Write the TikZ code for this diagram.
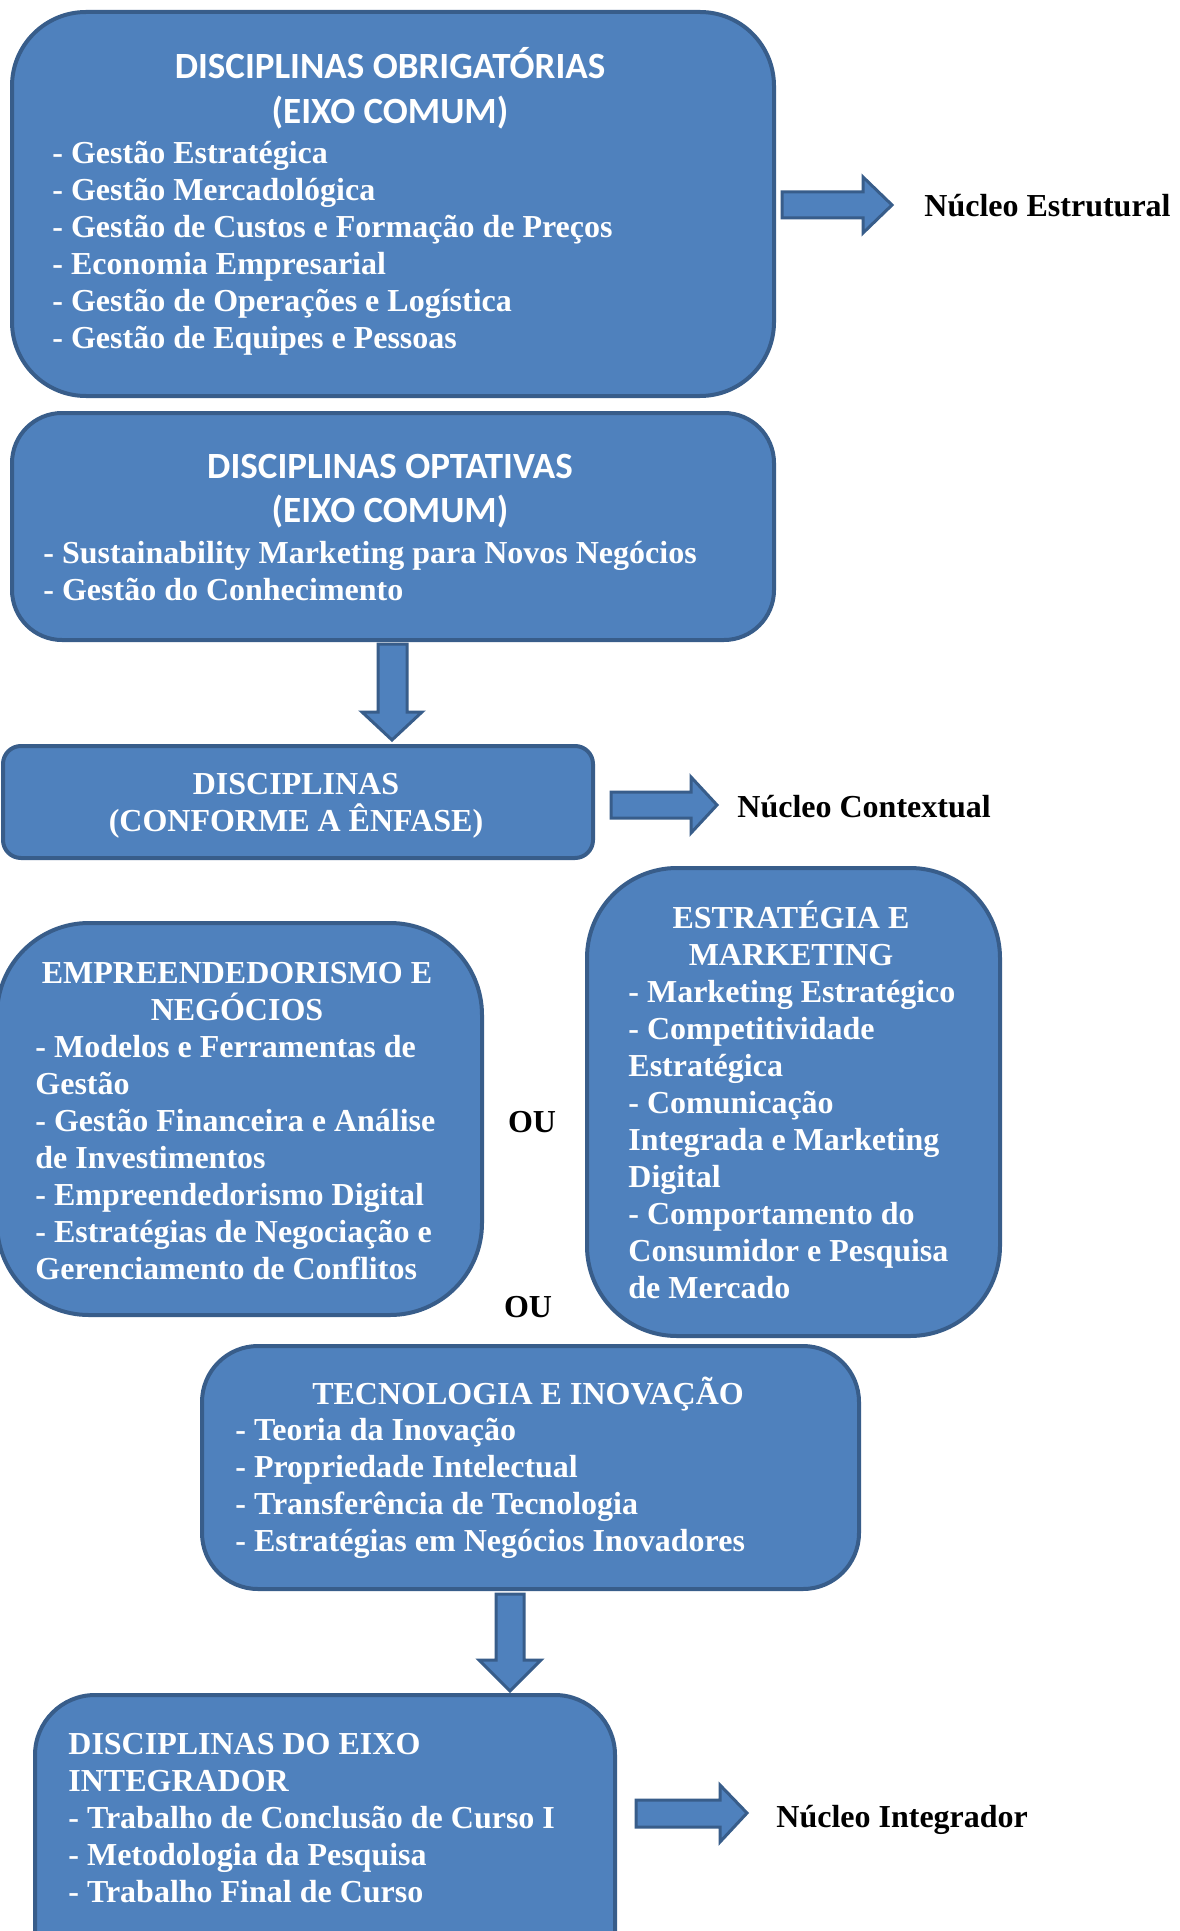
\documentclass[tikz,border=0pt]{standalone}
\usepackage{fontspec}
\setmainfont{Liberation Serif}
\newfontfamily\headfont{Carlito}
\definecolor{boxfill}{HTML}{4F81BD}
\definecolor{boxline}{HTML}{385D8A}
\newcommand\hstrutx{\rule{0pt}{20pt}}
\newcommand\bstrutx{\rule{0pt}{17pt}}
\begin{document}
\begin{tikzpicture}[x=0.5pt,y=-0.5pt,
  box/.style={draw=boxline, fill=boxfill, line width=2pt, inner sep=0pt, anchor=north west},
  blk/.style={draw=boxline, fill=boxfill, line width=1.5pt, line join=miter},
  head/.style={text=white, font=\headfont\bfseries\fontsize{18.5}{22.25}\selectfont, align=center, inner sep=0pt, anchor=north},
  body/.style={text=white, font=\bfseries\fontsize{16}{18.5}\selectfont, align=left, inner sep=0pt, anchor=north west},
  shead/.style={text=white, font=\bfseries\fontsize{16}{18.5}\selectfont, align=center, inner sep=0pt, anchor=north},
  lbl/.style={text=black, font=\bfseries\fontsize{16}{18.5}\selectfont, inner sep=0pt, anchor=base west},
  ou/.style={text=black, font=\bfseries\fontsize{16}{18.5}\selectfont, inner sep=0pt, anchor=base}]
\useasboundingbox (0,0) rectangle (1179,1931);
\fill[white] (0,0) rectangle (1179,1931);
\clip (0,0) rectangle (1179,1931);

% boxes
\node[box, minimum width=381pt, minimum height=192pt, rounded corners=37pt] (b1) at (10,10) {};
\node[box, minimum width=381pt, minimum height=113.5pt, rounded corners=25pt] (b2) at (10,411) {};
\node[box, minimum width=295pt, minimum height=56pt, rounded corners=9pt] (b3) at (1,744) {};
\node[box, minimum width=242.5pt, minimum height=196pt, rounded corners=46pt] (b4) at (-5,921) {};
\node[box, minimum width=206.5pt, minimum height=234pt, rounded corners=45pt] (b5) at (585,866) {};
\node[box, minimum width=328.5pt, minimum height=121.5pt, rounded corners=28pt] (b6) at (200,1344) {};
\node[box, minimum width=290pt, minimum height=148.5pt, rounded corners=30pt] (b7) at (33,1693) {};

% texts in boxes
\node[head] (t1h) at (390,38.5) {\hstrutx DISCIPLINAS OBRIGATÓRIAS\\(EIXO COMUM)};
\node[body] (t1b) at (52,129) {\bstrutx - Gestão Estratégica\\- Gestão Mercadológica\\- Gestão de Custos e Formação de Preços\\- Economia Empresarial\\- Gestão de Operações e Logística\\- Gestão de Equipes e Pessoas};

\node[head] (t2h) at (390,437.7) {\hstrutx DISCIPLINAS OPTATIVAS\\(EIXO COMUM)};
\node[body] (t2b) at (43,529) {\bstrutx - Sustainability Marketing para Novos Negócios\\- Gestão do Conhecimento};

\node[shead] (t3) at (296,760.5) {\bstrutx DISCIPLINAS\\(CONFORME A ÊNFASE)};

\node[shead] (t4h) at (237,949) {\bstrutx EMPREENDEDORISMO E\\NEGÓCIOS};
\node[body] (t4b) at (35,1023) {\bstrutx - Modelos e Ferramentas de\\Gestão\\- Gestão Financeira e Análise\\de Investimentos\\- Empreendedorismo Digital\\- Estratégias de Negociação e\\Gerenciamento de Conflitos};

\node[shead] (t5h) at (791,894) {\bstrutx ESTRATÉGIA E\\MARKETING};
\node[body] (t5b) at (628,968) {\bstrutx - Marketing Estratégico\\- Competitividade\\Estratégica\\- Comunicação\\Integrada e Marketing\\Digital\\- Comportamento do\\Consumidor e Pesquisa\\de Mercado};

\node[shead] (t6h) at (528,1370) {\bstrutx TECNOLOGIA E INOVAÇÃO};
\node[body] (t6b) at (235,1406) {\bstrutx - Teoria da Inovação\\- Propriedade Intelectual\\- Transferência de Tecnologia\\- Estratégias em Negócios Inovadores};

\node[body] (t7) at (68,1720) {\bstrutx DISCIPLINAS DO EIXO\\INTEGRADOR\\- Trabalho de Conclusão de Curso I\\- Metodologia da Pesquisa\\- Trabalho Final de Curso};

% labels
\node[lbl] (n1) at (924,217) {Núcleo Estrutural};
\node[lbl] (n2) at (737,817) {Núcleo Contextual};
\node[lbl] (n3) at (776,1827) {Núcleo Integrador};
\node[ou] (ou1) at (532,1132) {OU};
\node[ou] (ou2) at (528,1317) {OU};

% block arrows
\draw[blk] (782,192) -- (863,192) -- (863,177) -- (892,205) -- (863,233) -- (863,218) -- (782,218) -- cycle;
\draw[blk] (611,792) -- (691,792) -- (691,777) -- (717,805) -- (691,833) -- (691,818) -- (611,818) -- cycle;
\draw[blk] (636,1800) -- (720,1800) -- (720,1785) -- (747,1813) -- (720,1842) -- (720,1827) -- (636,1827) -- cycle;
\draw[blk] (378,644) -- (378,712) -- (362,712) -- (392,740) -- (422,712) -- (407,712) -- (407,644) -- cycle;
\draw[blk] (496,1594) -- (496,1660) -- (479,1660) -- (510,1691) -- (541,1660) -- (524,1660) -- (524,1594) -- cycle;
\end{tikzpicture}
\end{document}
